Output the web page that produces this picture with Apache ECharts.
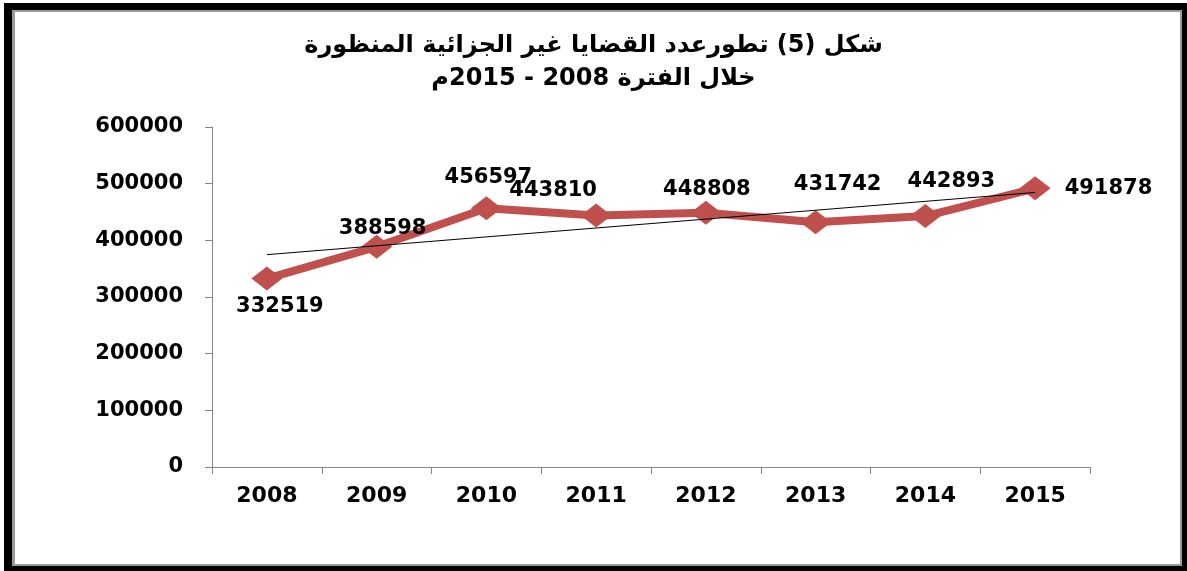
<!DOCTYPE html>
<html>
<head>
<meta charset="utf-8">
<script src="https://cdn.jsdelivr.net/npm/echarts@6/dist/echarts.min.js"></script>
<style>
  html, body { margin: 0; padding: 0; background: #fff; overflow: hidden; }
  #chart { width: 1187px; height: 571px; }
  .frame {
    position: absolute; left: 4px; top: 3px; width: 1183px; height: 568px;
    box-sizing: border-box;
    border-style: solid; border-color: #000;
    border-width: 7px 5px 5px 8px;
    box-shadow: inset 3px 2px 0 #9a9a9a, inset -2px -2px 0 #9a9a9a;
    pointer-events: none;
  }
</style>
</head>
<body>
<div id="chart"></div>
<div class="frame"></div>
<script>
const years = ['2008', '2009', '2010', '2011', '2012', '2013', '2014', '2015']
const cases = [332519, 388598, 456597, 443810, 448808, 431742, 442893, 491878]
// trendline ends (2008 / 2015)
const trendEnds = [374700, 484500]
const yTicks = [0, 100000, 200000, 300000, 400000, 500000, 600000]

const titleLines = [
  'شكل (5) تطورعدد القضايا غير الجزائية المنظورة',
  'خلال الفترة 2008 - 2015م',
]

// where each value label sits next to its point
const labelPlace = [
  { position: 'bottom', offset: [13, 0] },
  { position: 'top', offset: [6, 9] },
  { position: 'top', offset: [2, -3] },
  { position: 'top', offset: [-43, 3] },
  { position: 'top', offset: [1, 4] },
  { position: 'top', offset: [22, -10] },
  { position: 'top', offset: [26, -7] },
  { position: 'right', offset: [0, 0], distance: 14 },
]

const chart = echarts.init(document.getElementById('chart'))

// canvas is LTR by default, wrap each Arabic line in RLE ... PDF
const titleText = titleLines.map(s => '\u202B' + s + '\u202C').join('\n')

const options = {
  animation: false,
  title: {
    text: titleText,
    left: 'center',
    top: 24,
    textStyle: {
      fontFamily: 'DejaVu Sans',
      fontWeight: 'bold',
      fontSize: 24,
      lineHeight: 33,
      color: '#000',
    },
  },
  grid: { left: 212, right: 97, top: 127, bottom: 104 },
  xAxis: {
    type: 'category',
    data: years,
    boundaryGap: true,
    axisLine: { lineStyle: { color: '#868686', width: 1 } },
    axisTick: { show: true, length: 7, lineStyle: { color: '#868686' } },
    axisLabel: {
      margin: 18,
      color: '#000',
      fontFamily: 'DejaVu Sans',
      fontWeight: 'bold',
      fontSize: 22,
    },
    splitLine: { show: false },
  },
  yAxis: {
    type: 'value',
    min: yTicks[0],
    max: yTicks[yTicks.length - 1],
    interval: 100000,
    axisLine: { show: true, lineStyle: { color: '#868686', width: 1 } },
    axisTick: { show: true, length: 7, lineStyle: { color: '#868686' } },
    axisLabel: {
      margin: 29,
      color: '#000',
      fontFamily: 'DejaVu Sans',
      fontWeight: 'bold',
      fontSize: 21,
      formatter: v => String(v),
    },
    splitLine: { show: false },
  },
  series: [
    {
      type: 'line',
      data: cases.map((v, i) => ({
        value: v,
        label: labelPlace[i],
      })),
      symbol: 'diamond',
      symbolSize: [31, 24],
      lineStyle: { color: '#C0504D', width: 8 },
      itemStyle: { color: '#C0504D' },
      label: {
        show: true,
        color: '#000',
        fontFamily: 'DejaVu Sans',
        fontWeight: 'bold',
        fontSize: 21,
        distance: 5,
      },
      z: 2,
    },
    {
      type: 'line',
      data: [trendEnds[0], '-', '-', '-', '-', '-', '-', trendEnds[1]],
      connectNulls: true,
      symbol: 'none',
      lineStyle: { color: '#000', width: 1 },
      silent: true,
      z: 3,
    },
  ],
}

chart.setOption(options)
window.addEventListener('resize', function () {
  chart && chart.resize()
})
</script>
</body>
</html>
